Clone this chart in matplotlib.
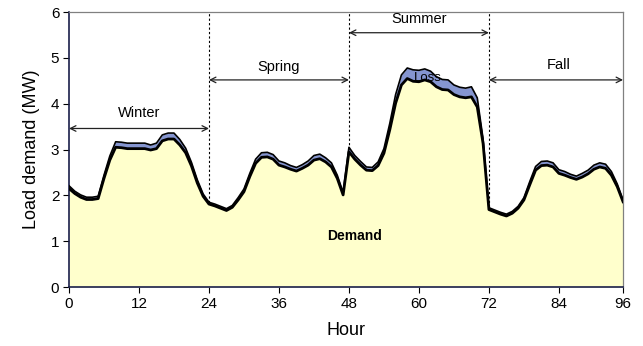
import matplotlib

matplotlib.use("Agg")
import matplotlib.pyplot as plt
import numpy as np

plt.rcParams["font.family"] = ["Liberation Sans", "DejaVu Sans"]

# hourly load for four representative days (one per season), MW
demand = [
    2.15, 2.04, 1.96, 1.91, 1.91, 1.93, 2.37, 2.77, 3.05, 3.04, 3.02, 3.02,
    3.02, 3.02, 2.99, 3.02, 3.19, 3.23, 3.23, 3.10, 2.93, 2.64, 2.27, 1.98,
    1.81, 1.77, 1.72, 1.67, 1.74, 1.90, 2.08, 2.41, 2.70, 2.83, 2.84, 2.79,
    2.66, 2.62, 2.57, 2.53, 2.59, 2.66, 2.77, 2.80, 2.73, 2.62, 2.37, 2.01,
    2.95, 2.79, 2.66, 2.55, 2.54, 2.65, 2.92, 3.43, 4.01, 4.41, 4.55, 4.49,
    4.48, 4.52, 4.48, 4.37, 4.31, 4.30, 4.20, 4.15, 4.13, 4.15, 3.93, 3.13,
    1.69, 1.64, 1.59, 1.55, 1.61, 1.72, 1.90, 2.23, 2.55, 2.65, 2.66, 2.62,
    2.48, 2.44, 2.39, 2.35, 2.40, 2.47, 2.57, 2.62, 2.59, 2.44, 2.19, 1.86,
]
loss = [
    0.06, 0.05, 0.05, 0.05, 0.05, 0.05, 0.07, 0.09, 0.12, 0.12, 0.12, 0.12,
    0.12, 0.12, 0.11, 0.12, 0.13, 0.13, 0.13, 0.12, 0.10, 0.08, 0.07, 0.05,
    0.04, 0.04, 0.04, 0.04, 0.04, 0.05, 0.06, 0.07, 0.09, 0.10, 0.10, 0.10,
    0.09, 0.09, 0.08, 0.08, 0.08, 0.09, 0.10, 0.10, 0.09, 0.09, 0.07, 0.05,
    0.10, 0.08, 0.08, 0.07, 0.07, 0.08, 0.10, 0.14, 0.19, 0.22, 0.23, 0.25,
    0.25, 0.24, 0.23, 0.22, 0.22, 0.22, 0.21, 0.21, 0.21, 0.22, 0.20, 0.10,
    0.04, 0.04, 0.04, 0.04, 0.04, 0.04, 0.05, 0.07, 0.08, 0.09, 0.09, 0.09,
    0.08, 0.08, 0.07, 0.07, 0.08, 0.08, 0.09, 0.09, 0.09, 0.08, 0.06, 0.04,
]
seasons = ["Winter", "Spring", "Summer", "Fall"]
season_start = [0, 24, 48, 72]
season_end = [24, 48, 72, 95]
arrow_y = [3.46, 4.52, 5.55, 4.52]
label_y = [3.80, 4.80, 5.85, 4.84]
label_x = [12, 36, 60, 84]
xticks = [0, 12, 24, 36, 48, 60, 72, 84, 95]
xticklabels = ["0", "12", "24", "36", "48", "60", "72", "84", "96"]

hours = np.arange(len(demand))
d = np.array(demand)
tot = d + np.array(loss)

fig = plt.figure(figsize=(6.43, 3.46), dpi=100)
ax = fig.add_axes([0.1073, 0.1705, 0.8617, 0.7945])

for x in season_start[1:]:
    ax.plot([x, x], [0, 6], ls=(0, (2, 2)), color="k", lw=0.8, zorder=1)

ax.fill_between(hours, 0, d, color="#FFFFCC", lw=0, zorder=2)
ax.fill_between(hours, d, tot, color="#8595D0", lw=0, zorder=2)
ax.plot(hours, d, color="k", lw=2.0, zorder=3, solid_joinstyle="round")
ax.plot(hours, tot, color="k", lw=1.2, zorder=3, solid_joinstyle="round")

for name, s, e, ay, lx, ly in zip(seasons, season_start, season_end, arrow_y,
                                  label_x, label_y):
    ax.annotate("", xy=(s, ay), xytext=(e, ay),
                arrowprops=dict(arrowstyle="<->", color="#222222", lw=0.9,
                                shrinkA=0, shrinkB=0))
    ax.text(lx, ly, name, ha="center", va="center", fontsize=10.5)

ax.text(49, 1.12, "Demand", fontsize=10, fontweight="bold", ha="center", va="center")
ax.text(61.5, 4.57, "Loss", fontsize=9.5, ha="center", va="center", zorder=4)

ax.set_xlim(0, 95)
ax.set_ylim(0, 6)
ax.set_xticks(xticks)
ax.set_xticklabels(xticklabels)
ax.set_yticks(range(7))
ax.tick_params(labelsize=11, direction="out", length=4, width=0.8, pad=3)
ax.set_xlabel("Hour", fontsize=13, labelpad=8)
ax.set_ylabel("Load demand (MW)", fontsize=13, labelpad=8)
for side in ("left", "bottom"):
    ax.spines[side].set_color("#1a1f4a")
    ax.spines[side].set_linewidth(1.2)
for side in ("top", "right"):
    ax.spines[side].set_color("#808080")
    ax.spines[side].set_linewidth(0.9)

fig.savefig("out.png", dpi=100)
